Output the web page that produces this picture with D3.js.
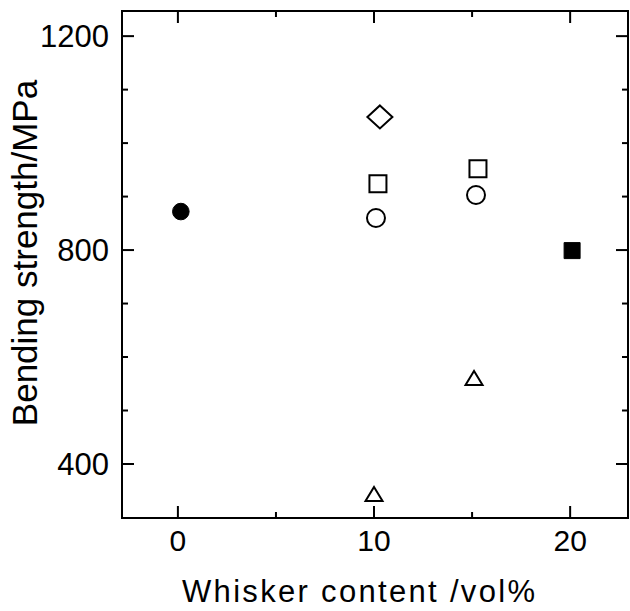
<!DOCTYPE html>
<html>
<head>
<meta charset="utf-8">
<script src="https://cdn.jsdelivr.net/npm/d3@7"></script>
<style>
  body { margin: 0; background: #fff; }
  svg { display: block; }
  text { font-family: "Liberation Sans", Arial, sans-serif; fill: #000; }
</style>
</head>
<body>
<div id="chart"></div>
<script>
// data
const xTicks = [0, 10, 20];
const xMinor = [5, 15];
const yTicks = [400, 800, 1200];
const yMinor = [500, 600, 700, 900, 1000, 1100];

const seriesNames = ["filledCircle", "diamond", "square", "circle", "triangle", "filledSquare"];
const xVals = [
    [0.15],
    [10.3],
    [10.2, 15.3],
    [10.1, 15.2],
    [10.0, 15.1],
    [20.1]
];
const yVals = [
    [872],
    [1049],
    [924, 952],
    [860, 903],
    [342, 559],
    [799]
];

const width = 630, height = 611;
const margin = { left: 122, right: 2, top: 11, bottom: 93 };

const svg = d3.select("#chart").append("svg")
    .attr("width", width)
    .attr("height", height);

const x = d3.scaleLinear()
    .domain([-2.85, 22.95])
    .range([margin.left, width - margin.right]);

const y = d3.scaleLinear()
    .domain([299, 1247])
    .range([height - margin.bottom, margin.top]);

const x0 = x.range()[0], x1 = x.range()[1];
const y0 = y.range()[0], y1 = y.range()[1];
const majorLen = 12, minorLen = 6;

// frame
svg.append("rect")
    .attr("x", x0).attr("y", y1)
    .attr("width", x1 - x0).attr("height", y0 - y1)
    .attr("fill", "none")
    .attr("stroke", "#000")
    .attr("stroke-width", 2);

// inward ticks on all four sides
const ticks = svg.append("g").attr("stroke", "#000").attr("stroke-width", 2);

function xTick(v, len) {
    ticks.append("line").attr("x1", x(v)).attr("x2", x(v)).attr("y1", y0).attr("y2", y0 - len);
    ticks.append("line").attr("x1", x(v)).attr("x2", x(v)).attr("y1", y1).attr("y2", y1 + len);
}
function yTick(v, len) {
    ticks.append("line").attr("x1", x0).attr("x2", x0 + len).attr("y1", y(v)).attr("y2", y(v));
    ticks.append("line").attr("x1", x1).attr("x2", x1 - len).attr("y1", y(v)).attr("y2", y(v));
}
xTicks.forEach(v => xTick(v, majorLen));
xMinor.forEach(v => xTick(v, minorLen));
yTicks.forEach(v => yTick(v, majorLen));
yMinor.forEach(v => yTick(v, minorLen));

// tick labels
svg.append("g").selectAll("text")
    .data(xTicks)
    .join("text")
    .attr("x", d => x(d))
    .attr("y", y0 + 33)
    .attr("text-anchor", "middle")
    .style("font-size", "30px")
    .text(d => d);

svg.append("g").selectAll("text")
    .data(yTicks)
    .join("text")
    .attr("x", x0 - 13)
    .attr("y", d => y(d))
    .attr("dy", "0.36em")
    .attr("text-anchor", "end")
    .style("font-size", "31px")
    .text(d => d);

// axis titles
svg.append("text")
    .attr("x", 182)
    .attr("y", 602)
    .attr("textLength", 353)
    .attr("lengthAdjust", "spacing")
    .style("font-size", "31px")
    .text("Whisker content /vol%");

svg.append("text")
    .attr("transform", "translate(37, 253) rotate(-90)")
    .attr("text-anchor", "middle")
    .style("font-size", "35px")
    .text("Bending strength/MPa");

// markers
const sym = {
    filledCircle: { type: d3.symbolCircle, size: Math.PI * 8.3 * 8.3, fill: true },
    diamond: { type: null, fill: false },
    square: { type: d3.symbolSquare, size: 17 * 17, fill: false },
    circle: { type: d3.symbolCircle, size: Math.PI * 9 * 9, fill: false },
    triangle: { type: null, fill: false },
    filledSquare: { type: d3.symbolSquare, size: 16 * 16, fill: true }
};

function markerPath(name) {
    if (name === "diamond") {
        return "M0,-11.5L12.5,0L0,11.5L-12.5,0Z";
    }
    if (name === "triangle") {
        return "M0,-8L8.5,6L-8.5,6Z";
    }
    return d3.symbol().type(sym[name].type).size(sym[name].size)();
}

const marks = svg.append("g");
seriesNames.forEach((name, i) => {
    const pts = xVals[i].map((xv, j) => [xv, yVals[i][j]]);
    marks.append("g").selectAll("path")
        .data(pts)
        .join("path")
        .attr("transform", d => `translate(${x(d[0])},${y(d[1])})`)
        .attr("d", markerPath(name))
        .attr("fill", sym[name].fill ? "#000" : "none")
        .attr("stroke", "#000")
        .attr("stroke-width", sym[name].fill ? 1 : 2);
});
</script>
</body>
</html>
